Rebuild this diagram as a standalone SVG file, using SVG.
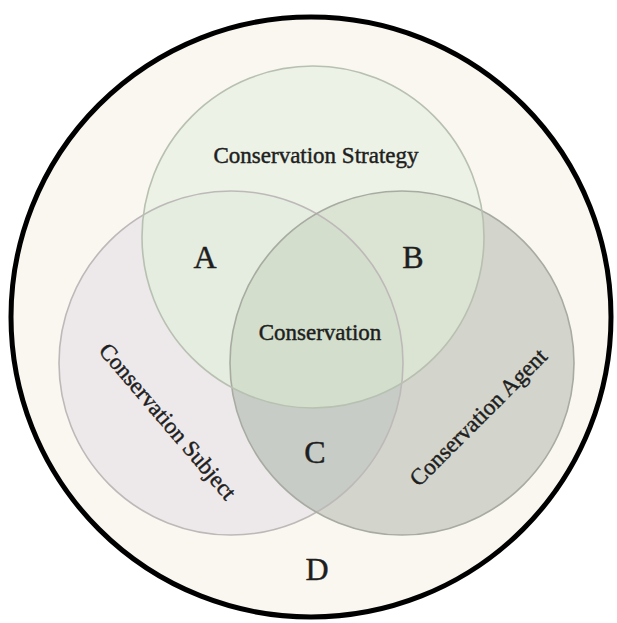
<svg xmlns="http://www.w3.org/2000/svg" width="617" height="623" viewBox="0 0 617 623">
<defs>
<style>
.lbl{font-family:"Liberation Serif","DejaVu Serif",serif;fill:#1e1e1e;stroke:#1e1e1e;stroke-width:0.45;text-anchor:middle}
.t{font-size:23px}
.big{font-size:32px}
.ring{fill:none;stroke-width:1.6}
</style>
<clipPath id="clipL"><circle cx="231" cy="363" r="172"/></clipPath>
<clipPath id="clipR"><circle cx="402" cy="363" r="172"/></clipPath>
<clipPath id="clipLR" clip-path="url(#clipL)"><circle cx="402" cy="363" r="172"/></clipPath>
</defs>
<rect width="617" height="623" fill="#ffffff"/>
<g id="universe">
<circle cx="311" cy="317" r="300" fill="#faf7f0" stroke="#000" stroke-width="5"/>
</g>
<g id="subject">
<circle cx="231" cy="363" r="172" fill="#ede8ea"/>
</g>
<g id="agent">
<circle cx="402" cy="363" r="172" fill="#d3d4cb"/>
<circle cx="402" cy="363" r="172" fill="#c7ccc6" clip-path="url(#clipL)"/>
</g>
<g id="strategy">
<circle cx="313" cy="237" r="171" fill="#ecf2e6"/>
<circle cx="313" cy="237" r="171" fill="#e5ece0" clip-path="url(#clipL)"/>
<circle cx="313" cy="237" r="171" fill="#dbe3d3" clip-path="url(#clipR)"/>
<circle cx="313" cy="237" r="171" fill="#d3dfcc" clip-path="url(#clipLR)"/>
</g>
<g id="outlines">
<circle class="ring" cx="231" cy="363" r="172" stroke="#bdb9b8"/>
<circle class="ring" cx="402" cy="363" r="172" stroke="#a8aba2"/>
<circle class="ring" cx="313" cy="237" r="171" stroke="#b7c0b1"/>
</g>
<g id="labels">
<text class="lbl t" x="316" y="163">Conservation Strategy</text>
<text class="lbl t" x="320" y="340">Conservation</text>
<text class="lbl t" transform="translate(168,421) rotate(49.5)" x="0" y="8">Conservation Subject</text>
<text class="lbl t" transform="translate(478,417) rotate(-45)" x="0" y="8">Conservation Agent</text>
<text class="lbl big" x="205" y="268">A</text>
<text class="lbl big" x="413" y="268">B</text>
<text class="lbl big" x="315" y="463">C</text>
<text class="lbl big" x="317" y="580">D</text>
</g>
</svg>
